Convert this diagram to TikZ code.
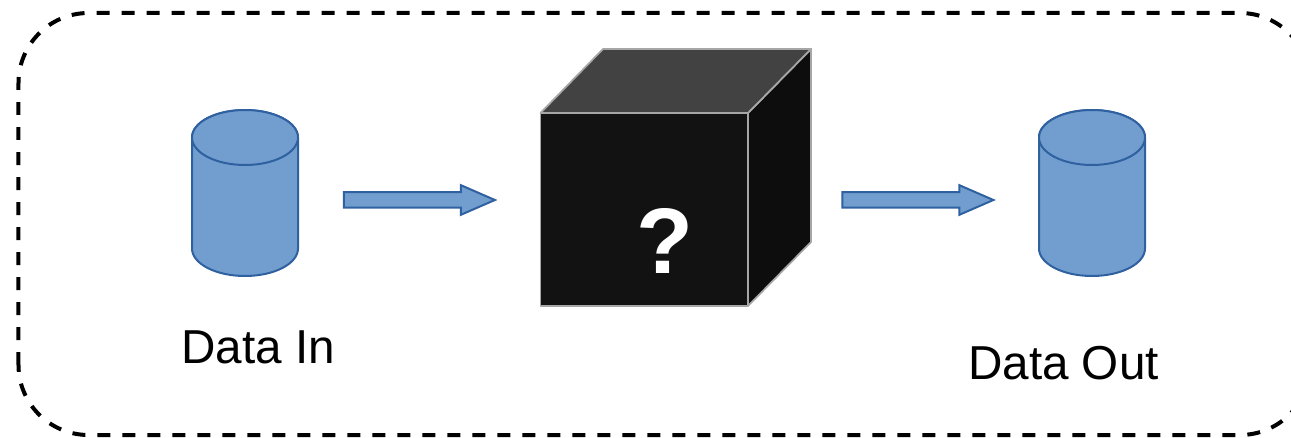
\documentclass[tikz,border=0pt]{standalone}
\usepackage{fontspec}
\setmainfont{Liberation Sans}
\usepackage{xcolor}
\usetikzlibrary{shapes,shapes.geometric,shapes.arrows,positioning,calc}
\definecolor{datablue}{HTML}{719ECF}
\definecolor{dataedge}{HTML}{2F60A0}
\definecolor{cubeedge}{HTML}{A6A6A6}
\tikzset{
    datacyl/.style={draw=dataedge, fill=datablue, line width=0.04cm, line join=round},
    blockarrow/.style={draw=dataedge, fill=datablue, line width=0.04cm, shape=single arrow, single arrow tip angle=47, single arrow head extend=0.14cm, minimum height=3.02cm, inner xsep=0pt, inner ysep=0.135cm},
    cubeface/.style={draw=cubeedge, line width=0.035cm, line join=round},
    datalabel/.style={anchor=base, font=\fontsize{27.1pt}{30pt}\selectfont},
}

\begin{document}
\begin{tikzpicture}
    \useasboundingbox (0,0) rectangle (25.82,8.74);
    \clip (0,0) rectangle (25.82,8.74);

    % Boundary
    \draw[line width=0.08cm, rounded corners=1.4cm, dash pattern=on 0.26cm off 0.24cm] (0.37,0.04) rectangle (26.2,8.48);

    % Data stores
    \draw[datacyl] (3.84,5.99) -- (3.84,3.77) arc[start angle=180, end angle=360, x radius=1.06, y radius=0.55] -- (5.96,5.99) arc[start angle=0, end angle=180, x radius=1.06, y radius=0.55] -- cycle;
    \draw[datacyl] (4.9,5.99) ellipse[x radius=1.06, y radius=0.55];
    \draw[datacyl] (20.78,5.99) -- (20.78,3.77) arc[start angle=180, end angle=360, x radius=1.06, y radius=0.55] -- (22.9,5.99) arc[start angle=0, end angle=180, x radius=1.06, y radius=0.55] -- cycle;
    \draw[datacyl] (21.84,5.99) ellipse[x radius=1.06, y radius=0.55];
    \node[datalabel] (datainlabel) at (5.16,1.48) {Data In};
    \node[datalabel] (dataoutlabel) at (21.27,1.16) {Data Out};

    % Arrows
    \node[blockarrow] (arrowin) at (8.21,4.74) {};
    \node[blockarrow] (arrowout) at (18.18,4.74) {};

    % Cube
    \draw[cubeface, fill=black!95] (14.96,6.48) -- (16.22,7.76) -- (16.22,3.9) -- (14.96,2.62) -- cycle;
    \draw[cubeface, fill=black!74] (10.81,6.48) -- (12.06,7.76) -- (16.22,7.76) -- (14.96,6.48) -- cycle;
    \draw[cubeface, fill=black!93] (10.81,2.62) rectangle (14.96,6.48);
    \node[anchor=base, text=white, font=\bfseries\fontsize{53pt}{60pt}\selectfont] (mystery) at (13.3,3.28) {?};
\end{tikzpicture}
\end{document}
